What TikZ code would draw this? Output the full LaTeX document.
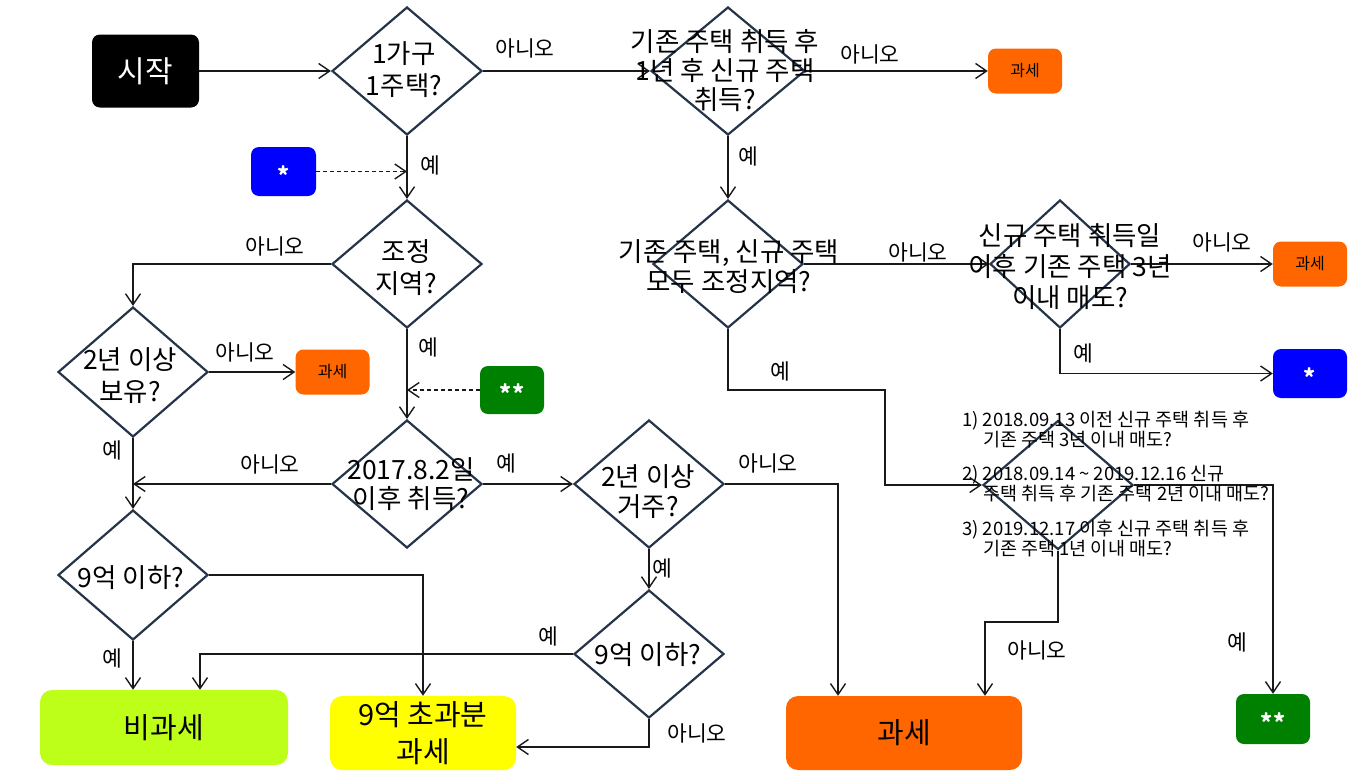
\documentclass[tikz,border=0pt]{standalone}
\usepackage{fontspec}
\setmainfont{Noto Sans CJK KR}
\usetikzlibrary{arrows.meta,shapes.geometric}
\definecolor{figline}{RGB}{25,25,25}
\definecolor{figedge}{RGB}{38,52,74}
\definecolor{taxorange}{RGB}{255,102,0}
\definecolor{starblue}{RGB}{0,0,255}
\definecolor{stargreen}{RGB}{0,128,0}
\definecolor{freelime}{RGB}{190,255,25}
\definecolor{partyellow}{RGB}{255,255,0}
\tikzset{
  dia/.style  ={diamond, draw=figedge, line width=2.2pt, inner sep=0pt, minimum width=150pt, minimum height=128pt},
  dtxt/.style ={align=center, inner sep=0pt, font=\fontsize{26.5}{32}\selectfont},
  lab/.style  ={inner sep=0pt, font=\fontsize{21.5}{24}\selectfont},
  ptr/.style  ={draw=figline, line width=1.4pt, -{Straight Barb[length=11pt,width=15pt,line width=1.4pt]}},
  dptr/.style ={ptr, dash pattern=on 4pt off 3pt},
  box/.style  ={rectangle, rounded corners=8pt, inner sep=0pt, align=center},
  taxs/.style ={box, fill=taxorange, minimum width=74pt, minimum height=45pt, font=\fontsize{16}{18}\selectfont},
  starbox/.style ={box, text=white, minimum width=74pt, minimum height=49pt, text height=25pt, text depth=0pt, font=\bfseries\fontsize{23}{23}\selectfont},
  big/.style  ={box, rounded corners=12pt, minimum height=74pt, font=\fontsize{29}{37}\selectfont},
}

\begin{document}
\begin{tikzpicture}[x=1pt,y=-1pt]
  \useasboundingbox (0,0) rectangle (1353,774);
  % end boxes
  \node[box, fill=black, text=white, minimum width=107pt, minimum height=73pt, font=\fontsize{30}{32}\selectfont] (start) at (145.5,71) {시작};
  \node[taxs] (tax1) at (1025,71) {과세};
  \node[taxs] (tax2) at (1310,264) {과세};
  \node[taxs] (tax3) at (332.5,372) {과세};
  \node[starbox, fill=starblue, minimum width=65pt] (star1) at (283.5,171.5) {*};
  \node[starbox, fill=starblue] (star2) at (1310,373.5) {*};
  \node[starbox, fill=stargreen, minimum width=64pt, minimum height=48pt] (star3) at (512,390) {**};
  \node[starbox, fill=stargreen, minimum height=50pt] (star4) at (1273,719) {**};
  \node[big, fill=freelime, minimum width=248pt, minimum height=75pt] (nontax) at (164,727.5) {비과세};
  \node[big, fill=partyellow, minimum width=186pt] (excess) at (423,733) {9억 초과분\\과세};
  \node[big, fill=taxorange, minimum width=236pt] (bigtax) at (904,733) {과세};

  % decisions
  \node[dia] (d1) at (407,71) {};
  \node[dia, minimum width=154pt] (d2) at (728,71) {};
  \node[dia] (d3) at (728,264) {};
  \node[dia, minimum width=140pt] (d4) at (1060,264) {};
  \node[dia] (d5) at (407,264) {};
  \node[dia, minimum height=130pt] (d6) at (133,372) {};
  \node[dia] (d7) at (407,484) {};
  \node[dia, minimum height=130pt] (d8) at (133,575) {};
  \node[dia] (d9) at (649,484) {};
  \node[dia] (d10) at (649,654) {};
  \node[dia, minimum height=129pt] (d11) at (1058,485) {};

  % connectors
  \draw[ptr] (start.east) -- (d1.west);
  \draw[ptr] (d1.east) -- (d2.west);
  \draw[ptr] (d2.east) -- (tax1.west);
  \draw[ptr] (d2.south) -- (d3.north);
  \draw[ptr] (d3.east) -- (d4.west);
  \draw[ptr] (d4.east) -- (tax2.west);
  \draw[ptr] (d4.south) |- (star2.west);
  \draw[ptr] (d1.south) -- (d5.north);
  \draw[dptr] (star1.east) -- (star1.east -| d1.south);
  \draw[ptr] (d5.west) -| (d6.north);
  \draw[ptr] (d6.east) -- (tax3.west);
  \draw[ptr] (d6.south) -- (d8.north);
  \draw[ptr] (d5.south) -- (d7.north);
  \draw[dptr] (star3.west) -- (star3.west -| d5.south);
  \draw[ptr] (d7.west) -- (d7.west -| d6.south);
  \draw[ptr] (d7.east) -- (d9.west);
  \coordinate (bigin) at ([xshift=-66pt]bigtax.north);
  \draw[ptr] (d9.east) -| (bigin);
  \draw[ptr] (d9.south) -- (d10.north);
  \coordinate (freein) at ([xshift=36pt]nontax.north);
  \draw[ptr] (d10.west) -| (freein);
  \draw[ptr] (d10.south) |- ([yshift=-14pt]excess.east);
  \draw[ptr] (d8.south) -- (d8.south |- nontax.north);
  \draw[ptr] (d8.east) -| (excess.north);
  \coordinate (bend1) at (885,390);
  \draw[ptr] (d3.south) |- (bend1) |- (d11.west);
  \draw[ptr] (d11.east) -| (star4.north);
  \coordinate (bend2) at (985,622);
  \draw[ptr] (d11.south) |- (bend2) -- (bend2 |- bigtax.north);

  % decision texts
  \node[dtxt] (t1) at (404,70) {1가구\\1주택?};
  \node[dtxt, font=\fontsize{26.5}{29}\selectfont] (t2) at (725,71) {기존 주택 취득 후\\1년 후 신규 주택\\취득?};
  \node[dtxt, font=\fontsize{26.5}{30}\selectfont] (t3) at (729,267) {기존 주택, 신규 주택\\모두 조정지역?};
  \node[dtxt, font=\fontsize{26.5}{31}\selectfont] (t4) at (1070,267) {신규 주택 취득일\\이후 기존 주택 3년\\이내 매도?};
  \node[dtxt] (t5) at (406,268) {조정\\지역?};
  \node[dtxt] (t6) at (130,376) {2년 이상\\보유?};
  \node[dtxt, font=\fontsize{26.5}{29}\selectfont] (t7) at (411,484) {2017.8.2일\\이후 취득?};
  \node[dtxt] (t8) at (131,578) {9억 이하?};
  \node[dtxt, font=\fontsize{26.5}{30}\selectfont] (t9) at (648,492) {2년 이상\\거주?};
  \node[dtxt] (t10) at (648,655) {9억 이하?};
  \node[align=left, anchor=north west, inner sep=0pt, font=\fontsize{18.5}{20}\selectfont] (notes) at (962,411)
    {1) 2018.09.13 이전 신규 주택 취득 후\\\hspace*{21pt}기존 주택 3년 이내 매도?\\[14pt]
     2) 2018.09.14 \textasciitilde{} 2019.12.16 신규\\\hspace*{21pt}주택 취득 후 기존 주택 2년 이내 매도?\\[15pt]
     3) 2019.12.17 이후 신규 주택 취득 후\\\hspace*{21pt}기존 주택 1년 이내 매도?};

  % yes / no labels
  \node[lab] (n1) at (525,48) {아니오};
  \node[lab] (n2) at (870,54) {아니오};
  \node[lab] (y1) at (748,156) {예};
  \node[lab] (y2) at (430,165) {예};
  \node[lab] (n3) at (275,246) {아니오};
  \node[lab] (n4) at (918,252) {아니오};
  \node[lab] (n5) at (1222,242) {아니오};
  \node[lab] (y3) at (1083,353) {예};
  \node[lab] (y4) at (428,347) {예};
  \node[lab] (n6) at (245,352) {아니오};
  \node[lab] (y5) at (112,450) {예};
  \node[lab] (y6) at (780,371) {예};
  \node[lab] (n7) at (270,464) {아니오};
  \node[lab] (y7) at (506,463) {예};
  \node[lab] (n8) at (768,463) {아니오};
  \node[lab] (y8) at (662,568) {예};
  \node[lab] (y9) at (548,636) {예};
  \node[lab] (y10) at (112,658) {예};
  \node[lab] (n9) at (697,733) {아니오};
  \node[lab] (n10) at (1037,650) {아니오};
  \node[lab] (y11) at (1237,642) {예};
\end{tikzpicture}
\end{document}
